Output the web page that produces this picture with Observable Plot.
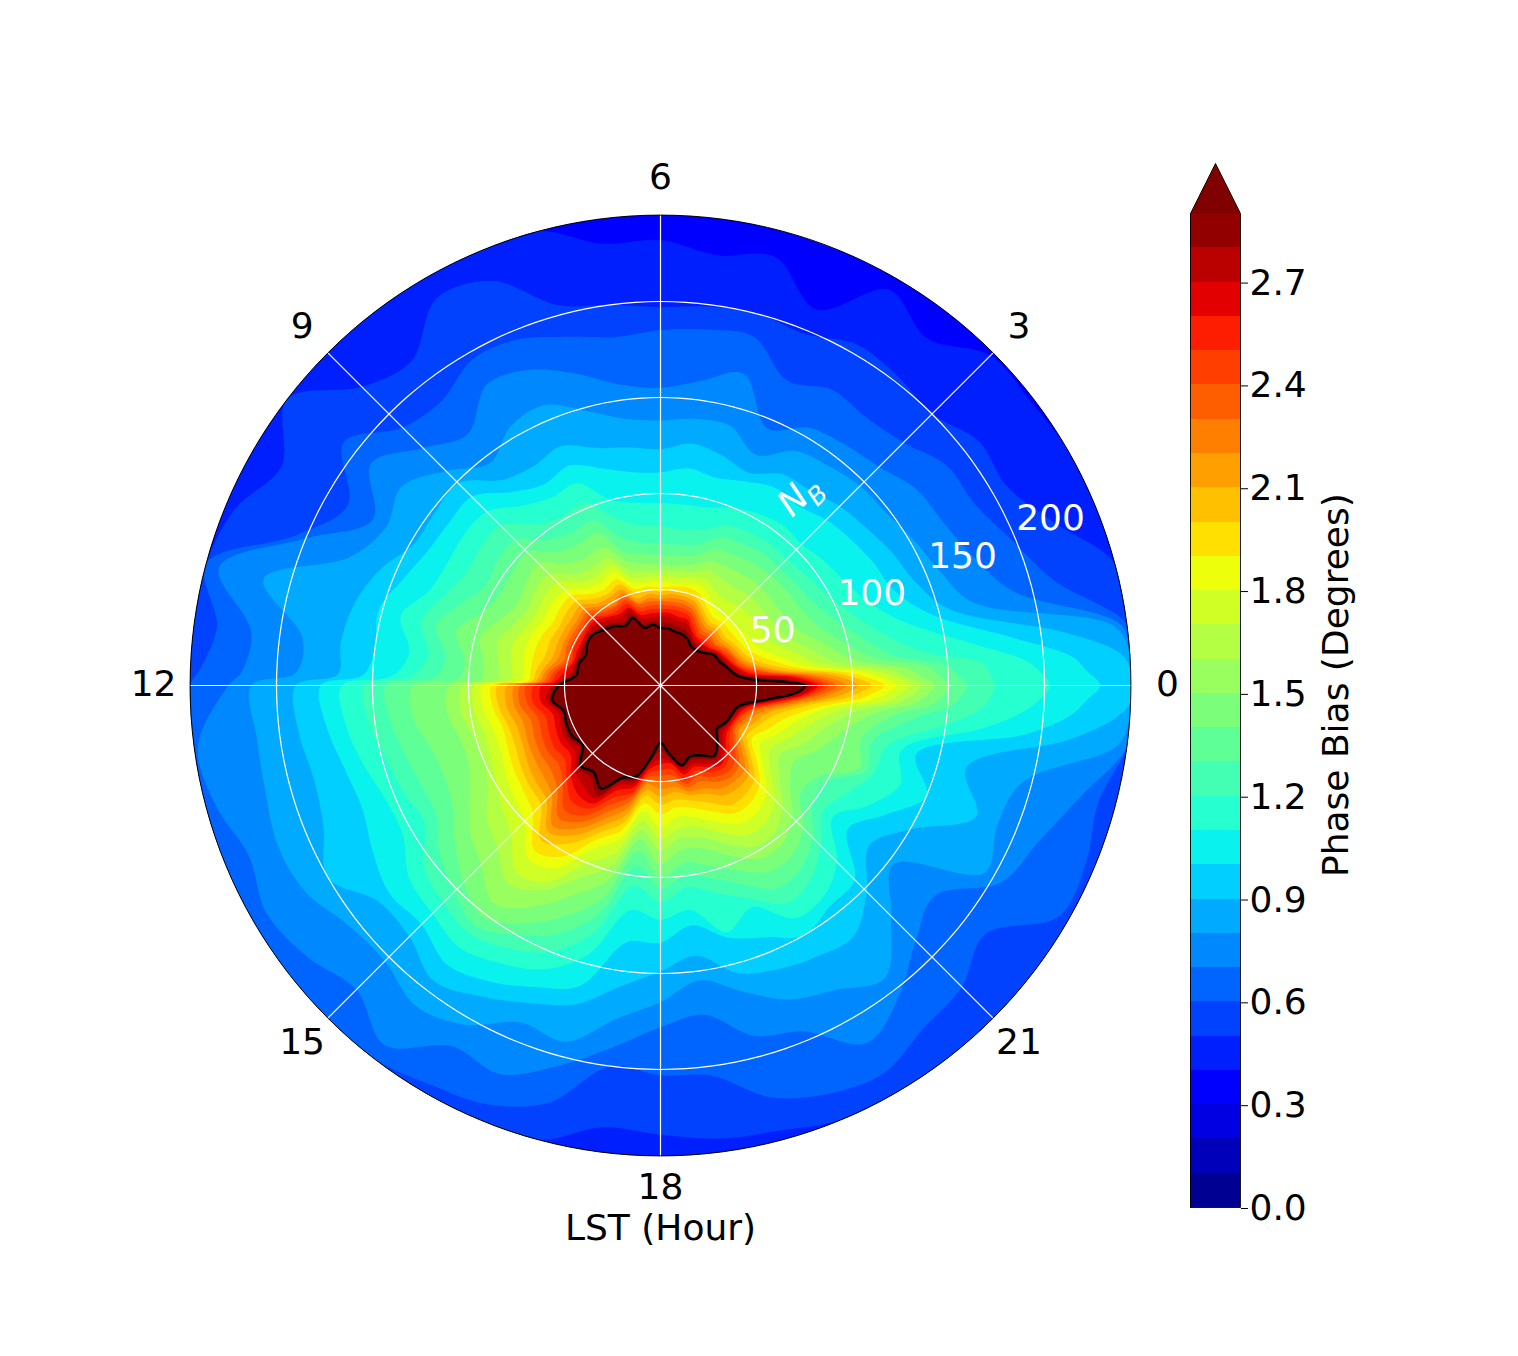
<!DOCTYPE html>
<html>
<head>
<meta charset="utf-8">
<script src="https://cdn.jsdelivr.net/npm/d3@7"></script>
<script src="https://cdn.jsdelivr.net/npm/@observablehq/plot@0.6"></script>
<style>
  body { margin: 0; background: white; }
  #chart { position: relative; width: 1518px; height: 1356px; }
  #chart svg { position: absolute; left: 0; top: 0; max-width: none; }
</style>
</head>
<body>
<div id="chart"></div>
<script>
// LST of every contour reading (hours). Extra readings around 0 for the spike and just before 12 for the step there.
const lstHour = [0, 2/15, 4/15, 0.5,
  1, 1.5, 2, 2.5, 3, 3.5, 4, 4.5, 5, 5.5, 6, 6.5, 7, 7.5, 8, 8.5, 9, 9.5, 10, 10.5, 11, 11.5, 178/15, 12,
  12.5, 13, 13.5, 14, 14.5, 15, 15.5, 16, 16.5, 17, 17.5, 18, 18.5, 19, 19.5, 20, 20.5, 21,
  21.5, 22, 22.5, 23, 23.5, 356/15, 358/15];

// Baseline N_B of each phase bias contour, one value per lstHour.
const edge = lstHour.map(() => 245);
const r04 = [245,245,245,245, 245,245,245,243,243, 228,238,212,231,226,232, 232,245,245,245,245,245, 245,245,245,245,245,245,245, 245,245,245,245,245,245, 245,245,245,245,245,245, 245,245,245,245,245,245, 245,245,245,245,245,245,245];
const r05 = [245,245,245,245, 245,222,208,209,200, 203,205,198,200,199,197, 200,205,228,233,213,220, 245,228,240,245,245,245,245, 245,245,245,245,245,245, 245,245,245,245,232,234, 238,240,245,245,245,245, 245,245,245,245,245,245,245];
const r06 = [245,245,245,245, 212,198,189,188,179, 176,178,172,188,187,185, 183,188,195,196,187,190, 208,188,205,245,233,240,245, 245,245,245,245,245,245, 245,240,236,225,200,203, 205,222,230,233,225,222, 213,240,240,236,245,245,245];
const r07 = [245,245,245,242, 190,176,170,168,161, 158,155,145,168,160,155, 158,168,178,181,165,175, 190,173,200,238,215,218,225, 243,240,232,237,232,224, 236,217,219,205,190,178, 173,189,195,215,204,188, 180,205,213,226,245,245,245];
const r08 = [245,245,245,238, 168,157,152,148,147, 144,141,130,140,140,138, 140,148,158,156,146,158, 170,165,175,214,188,190,213, 212,213,216,214,205,203, 210,204,190,192,175,165, 155,165,177,183,192,170, 153,195,190,195,240,245,245];
const r09 = [245,245,240,212, 155,143,139,135,132, 128,127,120,124,127,123, 125,128,135,132,135,149, 148,148,158,165,168,168,190, 190,187,190,200,185,185, 194,187,179,172,158,149, 142,155,160,163,165,152, 137,150,178,165,215,238,245];
const r10 = [229,222,215,187, 145,131,128,125,122, 118,119,115,112,114,111, 112,117,124,121,127,139, 139,140,145,152,150,155,177, 175,170,168,173,178,176, 183,178,170,162,135,134, 126,136,142,150,145,143, 123,135,150,138,193,215,222];
const r11 = [203,198,190,165, 130,116,110,107,104, 105,103,100,96,95,95, 96,100,114,113,118,128, 129,128,130,140,132,140,166, 165,160,155,155,165,168, 172,167,160,145,118,122, 118,133,125,140,139,130, 113,125,135,130,170,190,198];
const r12 = [174,172,168,137, 115,104,98,95,93, 93,92,90,84,82,83, 84,90,103,102,106,118, 118,117,122,129,122,130,154, 153,148,145,142,155,160, 163,158,150,133,105,113, 106,112,120,131,128,118, 107,112,120,122,152,168,172];
const r13 = [160,155,150,122, 105,95,90,88,87, 87,85,84,76,74,74, 75,80,93,92,96,107, 107,105,112,121,113,118,143, 142,138,135,135,145,152, 158,150,140,123,95,106, 100,104,112,122,120,112, 100,100,116,114,133,152,157];
const r14 = [150,145,140,112, 95,86,83,82,81, 80,78,77,70,68,68, 69,72,86,85,88,98, 97,96,100,110,103,105,129, 130,124,122,125,135,145, 152,143,130,114,87,100, 93,97,104,112,112,105, 92,95,112,108,122,142,147];
const r15 = [143,136,128,102, 87,77,74,73,73, 72,71,70,65,63,63, 64,67,78,77,80,90, 88,86,90,97,93,93,110, 112,108,108,115,125,132, 143,133,118,105,81,93, 86,88,96,104,104,97, 85,80,88,97,112,133,139];
const r16 = [136,128,120,93, 78,69,67,66,66, 64,64,65,61,60,60, 60,62,72,71,73,82, 82,80,83,88,85,85,103, 105,101,100,104,114,120, 130,123,108,97,76,86, 80,82,89,97,97,90, 78,72,80,88,103,125,132];
const r17 = [130,122,112,85, 70,61,60,59,58, 56,57,60,58,57,57, 57,58,68,66,68,76, 76,75,77,80,78,78,97, 98,95,96,99,104,110, 123,118,100,90,71,80, 75,76,83,90,90,84, 72,66,72,80,95,118,125];
const r18 = [123,115,105,78, 62,54,52,50,50, 49,52,56,55,54,54, 54,55,64,62,64,70, 71,70,72,73,72,73,93, 93,90,90,93,96,100, 113,110,92,83,66,74, 69,71,77,83,83,78, 67,60,66,73,88,110,118];
const r19 = [117,109,98,72, 56,49,47,46,46, 45,48,52,53,52,51, 52,52,60,58,60,66, 66,65,67,68,68,69,88, 88,85,86,88,90,94, 108,103,87,78,62,67, 64,66,71,77,77,73, 63,55,60,67,84,103,111];
const r20 = [110,103,92,67, 51,46,44,42,43, 42,45,49,50,50,49, 50,50,57,55,57,62, 62,61,62,62,65,67,85, 85,82,82,84,86,88, 102,95,83,74,58,62, 60,62,66,72,72,69, 59,52,55,61,78,96,104];
const r21 = [103,97,86,62, 48,44,42,40,41, 40,43,47,48,48,47, 48,47,54,53,54,59, 58,58,58,58,62,65,80, 81,78,78,80,82,84, 96,90,79,70,55,58, 56,59,61,66,67,65, 56,49,52,57,74,90,98];
const r22 = [97,91,80,59, 46,42,40,38,39, 38,41,45,46,46,45, 46,45,52,50,52,56, 55,55,55,55,60,63,76, 77,74,75,76,77,80, 92,86,75,66,52,54, 53,57,58,62,63,62, 53,47,49,54,71,85,92];
const r23 = [92,86,76,56, 44,41,39,36,37, 36,39,43,44,44,44, 44,44,50,48,50,54, 53,53,53,52,58,61,73, 74,70,71,72,72,76, 87,82,71,63,50,50, 50,55,54,58,60,58, 50,45,47,51,68,81,88];
const r24 = [88,82,73,54, 42,40,37,35,35, 34,37,41,42,42,42, 42,42,48,47,48,52, 51,51,51,50,56,59,70, 70,66,67,68,67,72, 82,78,67,60,48,47, 47,53,51,55,57,55, 48,44,45,49,66,78,84];
const r25 = [85,79,70,50, 41,38,36,33,33, 32,35,39,40,40,40, 40,40,46,45,46,50, 49,49,49,48,54,57,66, 67,62,63,64,63,69, 76,74,63,58,46,44, 44,51,48,52,54,51, 45,43,44,48,64,76,81];
const r26 = [82,76,67,47, 40,37,35,32,31, 31,33,37,37,38,38, 38,38,44,43,45,48, 48,47,47,47,51,55,62, 63,58,59,60,59,66, 71,71,59,55,44,41, 41,48,46,49,52,48, 43,42,43,46,62,74,79];
const r27 = [79,72,62,44, 39,36,34,31,30, 29,32,35,35,36,36, 36,36,43,41,43,46, 47,46,46,46,48,53,57, 60,55,56,57,56,63, 66,68,56,53,42,38, 40,46,44,47,50,46, 41,41,42,45,60,72,77];
const r28 = [77,68,55,42, 37,35,33,29,28, 28,30,32,32,33,33, 34,33,41,38,41,43, 45,45,45,45,46,52,55, 58,53,54,55,53,61, 60,66,54,51,40,34, 38,44,42,44,48,43, 39,40,41,44,58,70,75];
const r29 = [75,62,47,40, 36,33,32,28,26, 26,28,29,29,30,30, 32,31,38,36,39,41, 44,44,42,44,44,50,53, 57,52,53,53,51,59, 57,62,52,49,38,30, 36,43,40,42,46,42, 37,39,40,42,56,68,73];

// Lowest to highest, later ones paint over earlier ones.
const contours = [
  [0.3, edge], [0.4, r04], [0.5, r05], [0.6, r06], [0.7, r07], [0.8, r08], [0.9, r09],
  [1.0, r10], [1.1, r11], [1.2, r12], [1.3, r13], [1.4, r14], [1.5, r15], [1.6, r16],
  [1.7, r17], [1.8, r18], [1.9, r19], [2.0, r20], [2.1, r21], [2.2, r22], [2.3, r23],
  [2.4, r24], [2.5, r25], [2.6, r26], [2.7, r27], [2.8, r28], [2.9, r29],
];

const bandEdges = [0, 0.1, 0.2, 0.3, 0.4, 0.5, 0.6, 0.7, 0.8, 0.9, 1.0, 1.1, 1.2, 1.3, 1.4, 1.5,
  1.6, 1.7, 1.8, 1.9, 2.0, 2.1, 2.2, 2.3, 2.4, 2.5, 2.6, 2.7, 2.8, 2.9];
const colorbarTicks = [0, 0.3, 0.6, 0.9, 1.2, 1.5, 1.8, 2.1, 2.4, 2.7];
const lstTicks = [0, 3, 6, 9, 12, 15, 18, 21];
const nbTicks = [50, 100, 150, 200];
const nbLabelRadius = [65, 120, 171, 221];
const nbLabelLst = [26 / 15, 23.5 / 15, 23.1 / 15, 23.2 / 15];
const nbMax = 245;

// matplotlib's jet
const jetR = d3.scaleLinear([0, 0.35, 0.66, 0.89, 1], [0, 0, 1, 1, 0.5]);
const jetG = d3.scaleLinear([0, 0.125, 0.375, 0.64, 0.91, 1], [0, 0, 1, 1, 0, 0]);
const jetB = d3.scaleLinear([0, 0.11, 0.34, 0.65, 1], [0.5, 1, 1, 0, 0]);
function jet(t) {
  return d3.rgb(jetR(t) * 255, jetG(t) * 255, jetB(t) * 255).formatHex();
}

const bandColors = bandEdges.slice(0, -1).map((v) => jet((v + 0.05) / 2.9));
bandColors.push("#800000"); // over colour

const colorScale = {
  type: "threshold",
  domain: bandEdges.slice(1),
  range: bandColors,
};

const font = "DejaVu Sans";
const fontSize = 36;

function polar(lst, r) {
  const theta = (lst * Math.PI) / 12;
  return { x: r * Math.cos(theta), y: r * Math.sin(theta) };
}

const contourRows = contours.flatMap(([level, radii]) =>
  radii.map((r, i) => ({ level, ...polar(lstHour[i], r) })),
);
const blackContour = r29.map((r, i) => polar(lstHour[i], r));

function ringRows(r) {
  return d3.range(0, 24, 0.25).map((lst) => ({ r, ...polar(lst, r) }));
}

const spokes = lstTicks.map((lst) => polar(lst, nbMax));
const lstLabels = lstTicks.map((lst) => ({ lst, ...polar(lst, lst === 18 ? 262 : 264) }));
const nbLabels = nbTicks.map((r, i) => ({ r, ...polar(nbLabelLst[i], nbLabelRadius[i]) }));

const polarChart = Plot.plot({
  width: 1518,
  height: 1356,
  margin: 0,
  style: { background: "transparent" },
  // 1.92 px per N_B, centre of the disc at (660, 685)
  x: { domain: [-660 / 1.92, 858 / 1.92], axis: null },
  y: { domain: [-671 / 1.92, 685 / 1.92], axis: null },
  color: colorScale,
  marks: [
    Plot.line(contourRows, {
      x: "x",
      y: "y",
      z: "level",
      fill: "level",
      stroke: "none",
      curve: "catmull-rom-closed",
    }),
    // trims what the smooth curve pushes past the rim
    Plot.line(ringRows(nbMax + 8), {
      x: "x",
      y: "y",
      stroke: "white",
      strokeWidth: 30,
      curve: "catmull-rom-closed",
    }),
    Plot.line(blackContour, {
      x: "x",
      y: "y",
      stroke: "black",
      strokeWidth: 2.5,
      curve: "catmull-rom-closed",
    }),
    ...nbTicks.map((r) =>
      Plot.line(ringRows(r), {
        x: "x",
        y: "y",
        stroke: "white",
        strokeWidth: 1.2,
        curve: "catmull-rom-closed",
      }),
    ),
    Plot.link(spokes, {
      x1: () => 0,
      y1: () => 0,
      x2: "x",
      y2: "y",
      stroke: "white",
      strokeWidth: 1.2,
    }),
    Plot.line(ringRows(nbMax), {
      x: "x",
      y: "y",
      stroke: "black",
      strokeWidth: 1,
      curve: "catmull-rom-closed",
    }),
    Plot.text(lstLabels, {
      x: "x",
      y: "y",
      dy: -1,
      text: "lst",
      fontFamily: font,
      fontSize,
      fill: "black",
    }),
    Plot.text(nbLabels, {
      x: "x",
      y: "y",
      text: "r",
      fontFamily: font,
      fontSize,
      fill: "white",
    }),
    Plot.text([polar(54.3 / 15, 118.6)], {
      x: "x",
      y: "y",
      text: () => "N",
      rotate: -45,
      fontFamily: font,
      fontStyle: "italic",
      fontSize,
      fill: "white",
    }),
    Plot.text([polar(50.4 / 15, 128.4)], {
      x: "x",
      y: "y",
      text: () => "B",
      rotate: -45,
      fontFamily: font,
      fontStyle: "italic",
      fontSize: 25,
      fill: "white",
    }),
    Plot.text([{ x: 0, y: -282.8 }], {
      x: "x",
      y: "y",
      text: () => "LST (Hour)",
      fontFamily: font,
      fontSize,
      fill: "black",
    }),
  ],
});

const bands = bandEdges.slice(0, -1).map((lo, i) => ({ lo, hi: bandEdges[i + 1], x1: 0, x2: 1 }));
const topEdge = 2.9;
const arrowTip = 3.046; // past the end of the bar, only sets where the triangle ends
const arrow = [
  { x: 0, y: topEdge },
  { x: 0.5, y: arrowTip },
  { x: 1, y: topEdge },
];
const barOutline = [
  { x: 0, y: 0 },
  { x: 0, y: topEdge },
  { x: 0.5, y: arrowTip },
  { x: 1, y: topEdge },
  { x: 1, y: 0 },
  { x: 0, y: 0 },
];

const colorbar = Plot.plot({
  width: 1518,
  height: 1356,
  marginLeft: 1190,
  marginRight: 278,
  marginTop: 163,
  marginBottom: 149,
  style: { background: "transparent" },
  x: { domain: [0, 1], axis: null },
  y: { domain: [0, arrowTip] },
  color: colorScale,
  marks: [
    Plot.rect(bands, {
      x1: "x1",
      x2: "x2",
      y1: "lo",
      y2: "hi",
      fill: "lo",
      inset: 0,
      shapeRendering: "crispEdges",
    }),
    Plot.line(arrow, { x: "x", y: "y", fill: "#800000", stroke: "none" }),
    Plot.line(barOutline, { x: "x", y: "y", stroke: "black", strokeWidth: 0.9 }),
    Plot.axisY({
      anchor: "right",
      ticks: colorbarTicks,
      tickFormat: ".1f",
      tickSize: 7,
      tickPadding: 2,
      dy: 1,
      label: null,
      fontFamily: font,
      fontSize,
      fill: "black",
    }),
    Plot.text([{ x: 2.92, y: 1.524 }], {
      x: "x",
      y: "y",
      text: () => "Phase Bias (Degrees)",
      rotate: -90,
      fontFamily: font,
      fontSize,
      fill: "black",
    }),
  ],
});

const container = document.getElementById("chart");
container.appendChild(polarChart);
container.appendChild(colorbar);
</script>
</body>
</html>
